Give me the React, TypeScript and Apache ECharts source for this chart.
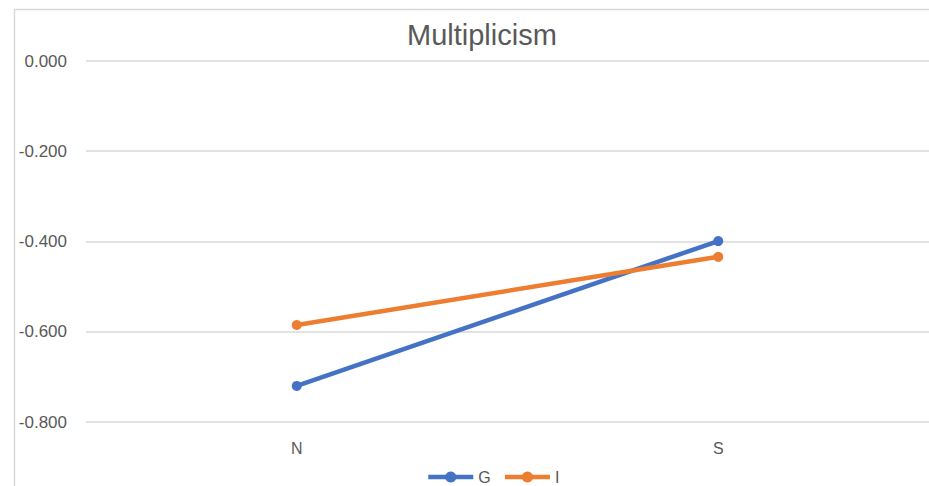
import React, { useEffect, useRef } from "react";
import * as echarts from "echarts";

const categories = ["N", "S"];
const seriesNames = ["G", "I"];
const gValues = [-0.72, -0.399];
const iValues = [-0.585, -0.434];
const colors = ["#4472C4", "#ED7D31"];

export default function App() {
  const ref = useRef<HTMLDivElement>(null);
  useEffect(() => {
    if (!ref.current) return;
    const chart = echarts.init(ref.current, undefined, { renderer: "svg" });
    const font = "'Liberation Sans', 'DejaVu Sans', sans-serif";
    chart.setOption({
      animation: false,
      backgroundColor: "#ffffff",
      title: {
        text: "Multiplicism",
        left: 402,
        top: 12,
        textStyle: { color: "#595959", fontSize: 29, fontWeight: "normal", fontFamily: font, lineHeight: 36 },
      },
      graphic: [
        {
          type: "rect",
          shape: { x: 14.5, y: 9.5, width: 1000, height: 1000 },
          style: { fill: "none", stroke: "#d9d9d9", lineWidth: 1.5 },
          silent: true,
        },
      ],
      grid: { left: 86, right: -3, top: 61, bottom: 64, containLabel: false },
      legend: {
        data: seriesNames,
        left: 426,
        top: 469,
        padding: 0,
        itemWidth: 45,
        itemHeight: 14,
        itemGap: 12,
        lineStyle: { width: 4.5 },
        textStyle: { color: "#595959", fontSize: 16, lineHeight: 16, fontFamily: font },
      },
      xAxis: {
        type: "category",
        data: categories,
        position: "bottom",
        axisLine: { show: false, onZero: false },
        axisTick: { show: false },
        axisLabel: { color: "#595959", fontSize: 16, fontFamily: font, margin: 18 },
      },
      yAxis: {
        type: "value",
        min: -0.8,
        max: 0,
        interval: 0.2,
        axisLine: { show: false },
        axisTick: { show: false },
        splitLine: { lineStyle: { color: "#d9d9d9", width: 1.5 } },
        axisLabel: {
          color: "#595959",
          fontSize: 17,
          fontFamily: font,
          margin: 19,
          formatter: (v: number) => v.toFixed(3),
        },
      },
      series: [
        {
          name: seriesNames[0],
          type: "line",
          data: gValues,
          color: colors[0],
          symbol: "circle",
          symbolSize: 10,
          lineStyle: { width: 4.5, color: colors[0] },
          itemStyle: { color: colors[0] },
        },
        {
          name: seriesNames[1],
          type: "line",
          data: iValues,
          color: colors[1],
          symbol: "circle",
          symbolSize: 10,
          lineStyle: { width: 4.5, color: colors[1] },
          itemStyle: { color: colors[1] },
        },
      ],
    });
    return () => chart.dispose();
  }, []);
  return (
    <div
      ref={ref}
      style={{ position: "fixed", left: 0, top: 0, width: 929, height: 486 }}
    />
  );
}
